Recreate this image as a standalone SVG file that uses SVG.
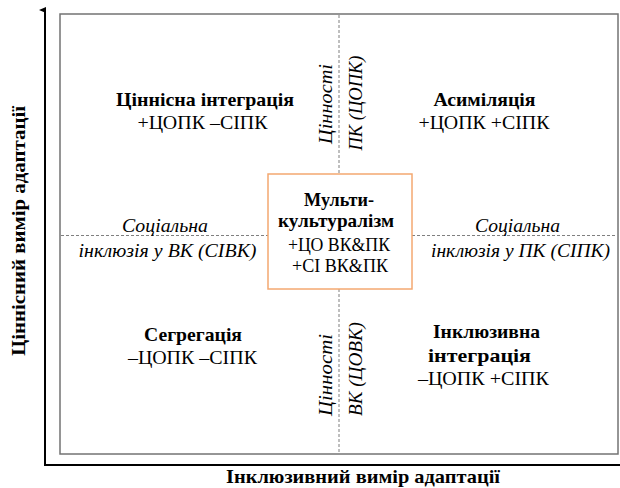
<svg xmlns="http://www.w3.org/2000/svg" width="620" height="488" viewBox="0 0 620 488">
<style>
text{font-family:"Liberation Serif","Times New Roman",serif;fill:#000;font-size:19px;text-anchor:middle;}
.b{font-weight:bold;}
.i{font-style:italic;}
.dash{stroke:#7f7f7f;stroke-width:1;stroke-dasharray:3,2;fill:none;}
</style>
<defs>
<marker id="arr" markerWidth="8" markerHeight="8" refX="3" refY="6" orient="auto" markerUnits="userSpaceOnUse">
<path d="M0,7 L3,0 L6,7 Z" fill="#000"/>
</marker>
</defs>
<rect width="620" height="488" fill="#fff"/>
<g id="frame">
<rect x="60" y="14" width="558" height="440" fill="#fff" stroke="#737373" stroke-width="1.5"/>
</g>
<g id="connectors">
<line x1="45" y1="465" x2="45" y2="10" stroke="#000" stroke-width="2" marker-end="url(#arr)"/>
<line x1="44" y1="465" x2="620" y2="465" stroke="#000" stroke-width="2"/>
<line class="dash" x1="339" y1="15" x2="339" y2="174"/>
<line class="dash" x1="339" y1="289" x2="339" y2="453"/>
<line class="dash" x1="61" y1="235.5" x2="268" y2="235.5"/>
<line class="dash" x1="412" y1="235.5" x2="617" y2="235.5"/>
</g>
<g id="axis-y"><text class="b" transform="translate(25,231) rotate(-90)" textLength="250" lengthAdjust="spacingAndGlyphs">Ціннісний вимір адаптації</text></g>
<g id="axis-x"><text class="b" x="363" y="483" textLength="274" lengthAdjust="spacingAndGlyphs">Інклюзивний вимір адаптації</text></g>
<g id="q-value-integration">
<text class="b" x="205" y="106" textLength="178" lengthAdjust="spacingAndGlyphs">Ціннісна інтеграція</text>
<text x="202.5" y="129" textLength="130" lengthAdjust="spacingAndGlyphs">+ЦОПК –СІПК</text>
</g>
<g id="q-assimilation">
<text class="b" x="484.5" y="106" textLength="102" lengthAdjust="spacingAndGlyphs">Асиміляція</text>
<text x="484" y="129" textLength="131" lengthAdjust="spacingAndGlyphs">+ЦОПК +СІПК</text>
</g>
<g id="q-segregation">
<text class="b" x="193" y="341" textLength="98" lengthAdjust="spacingAndGlyphs">Сегрегація</text>
<text x="192.5" y="364" textLength="129" lengthAdjust="spacingAndGlyphs">–ЦОПК –СІПК</text>
</g>
<g id="q-inclusive-integration">
<text class="b" x="486.5" y="338" textLength="107" lengthAdjust="spacingAndGlyphs">Інклюзивна</text>
<text class="b" x="479.5" y="362" textLength="103" lengthAdjust="spacingAndGlyphs">інтеграція</text>
<text x="483.5" y="385" textLength="131" lengthAdjust="spacingAndGlyphs">–ЦОПК +СІПК</text>
</g>
<g id="multiculturalism">
<rect x="268" y="174" width="144" height="115" fill="#fff" stroke="#f4a870" stroke-width="1.5"/>
<text class="b" x="339" y="206" textLength="70" lengthAdjust="spacingAndGlyphs">Мульти-</text>
<text class="b" x="336" y="227" textLength="116" lengthAdjust="spacingAndGlyphs">культуралізм</text>
<text x="339" y="251" textLength="102" lengthAdjust="spacingAndGlyphs">+ЦО ВК&amp;ПК</text>
<text x="340" y="272" textLength="96" lengthAdjust="spacingAndGlyphs">+СІ ВК&amp;ПК</text>
</g>
<g id="label-sivk">
<text class="i" x="165" y="232" textLength="86" lengthAdjust="spacingAndGlyphs">Соціальна</text>
<text class="i" x="167.5" y="257" textLength="178" lengthAdjust="spacingAndGlyphs">інклюзія у ВК (СІВК)</text>
</g>
<g id="label-sipk">
<text class="i" x="517.5" y="232" textLength="85" lengthAdjust="spacingAndGlyphs">Соціальна</text>
<text class="i" x="520.5" y="257" textLength="179" lengthAdjust="spacingAndGlyphs">інклюзія у ПК (СІПК)</text>
</g>
<g id="label-copk">
<text class="i" transform="translate(332,104) rotate(-90)" textLength="80" lengthAdjust="spacingAndGlyphs">Цінності</text>
<text class="i" transform="translate(362,103) rotate(-90)" textLength="95" lengthAdjust="spacingAndGlyphs">ПК (ЦОПК)</text>
</g>
<g id="label-covk">
<text class="i" transform="translate(332,375) rotate(-90)" textLength="82" lengthAdjust="spacingAndGlyphs">Цінності</text>
<text class="i" transform="translate(362,369) rotate(-90)" textLength="94" lengthAdjust="spacingAndGlyphs">ВК (ЦОВК)</text>
</g>
</svg>
